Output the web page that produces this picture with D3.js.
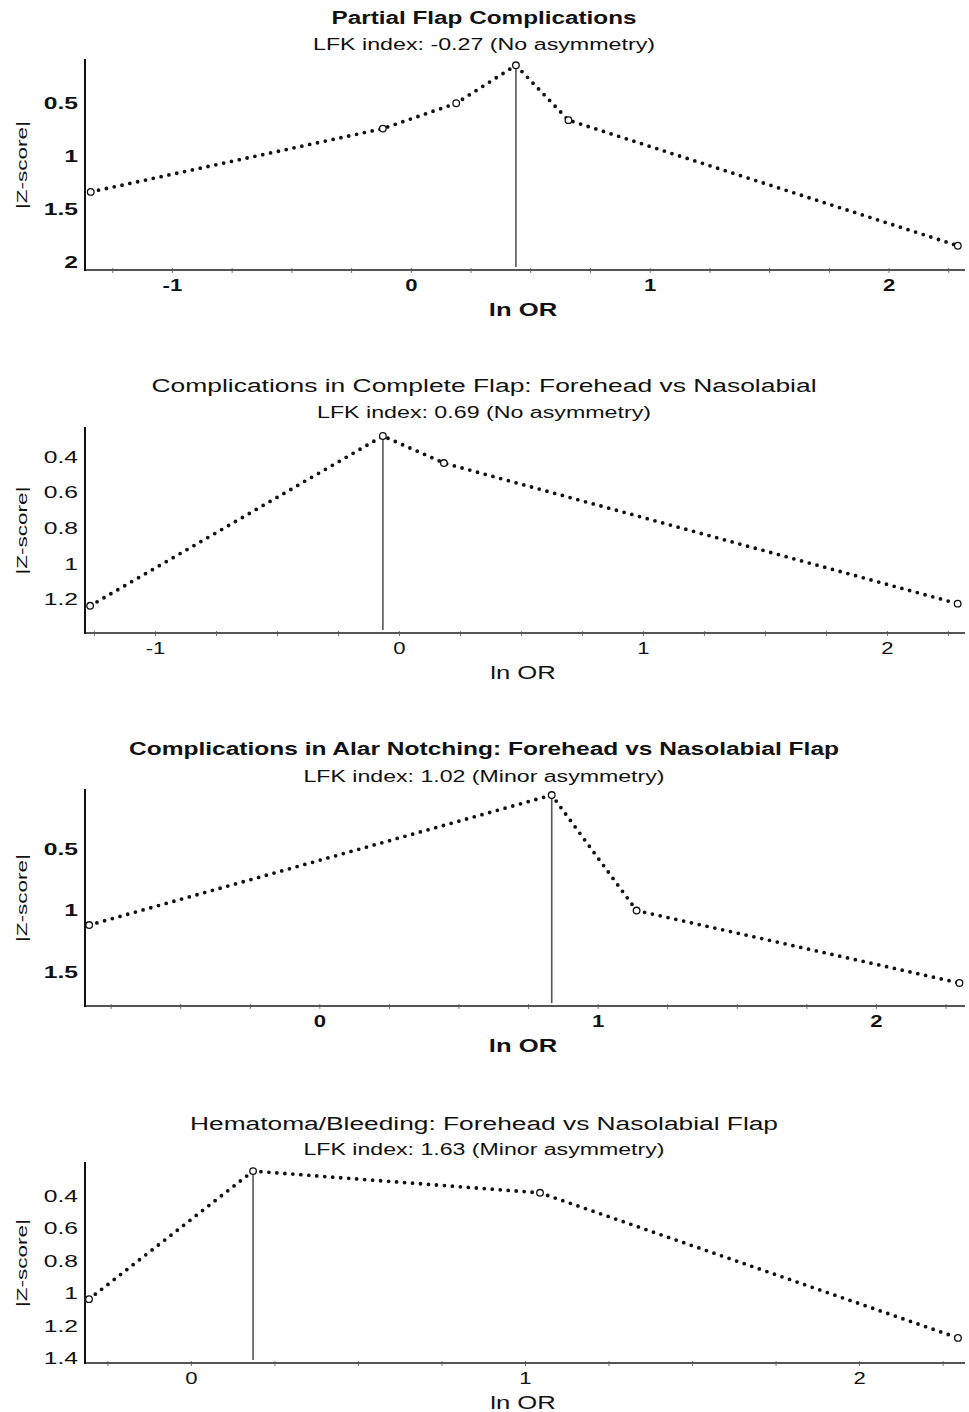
<!DOCTYPE html>
<html>
<head>
<meta charset="utf-8">
<script src="https://cdn.jsdelivr.net/npm/d3@7"></script>
<style>
  html, body { margin: 0; padding: 0; background: #fff; }
  svg { display: block; }
  text { font-family: "Liberation Sans", Arial, sans-serif; fill: #111; }
</style>
</head>
<body>
<svg id="chart" width="969" height="1412"></svg>
<script>
// ---------------- Data ----------------
const titles = [
  "Partial Flap Complications",
  "Complications in Complete Flap: Forehead vs Nasolabial",
  "Complications in Alar Notching: Forehead vs Nasolabial Flap",
  "Hematoma/Bleeding: Forehead vs Nasolabial Flap"
];
const subtitles = [
  "LFK index: -0.27 (No asymmetry)",
  "LFK index: 0.69 (No asymmetry)",
  "LFK index: 1.02 (Minor asymmetry)",
  "LFK index: 1.63 (Minor asymmetry)"
];
const xLabel = "ln OR";
const yLabel = "|Z-score|";

// ln OR (x) and |Z-score| (y) for each panel
const p1X = [-1.34, -0.117, 0.19, 0.44, 0.66, 2.29];
const p1Z = [1.34, 0.74, 0.50, 0.14, 0.66, 1.85];
const p2X = [-1.266, -0.066, 0.184, 2.29];
const p2Z = [1.237, 0.282, 0.434, 1.225];
const p3X = [-0.827, 0.835, 1.14, 2.30];
const p3Z = [1.118, 0.061, 1.00, 1.589];
const p4X = [-0.305, 0.186, 1.045, 2.296];
const p4Z = [1.036, 0.246, 0.38, 1.275];

// axis ranges
const p1XRange = [-1.364, 2.32], p1ZRange = [0.09, 2.08];
const p2XRange = [-1.287, 2.32], p2ZRange = [0.237, 1.39];
const p3XRange = [-0.842, 2.32], p3ZRange = [0.02, 1.776];
const p4XRange = [-0.317, 2.317], p4ZRange = [0.196, 1.43];

// tick labels
const p1XTicks = [-1, 0, 1, 2], p1ZTicks = [0.5, 1, 1.5, 2];
const p2XTicks = [-1, 0, 1, 2], p2ZTicks = [0.4, 0.6, 0.8, 1, 1.2];
const p3XTicks = [0, 1, 2],     p3ZTicks = [0.5, 1, 1.5];
const p4XTicks = [0, 1, 2],     p4ZTicks = [0.4, 0.6, 0.8, 1, 1.2, 1.4];

// ---------------- Layout ----------------
const panels = [
  { xs: p1X, zs: p1Z, xr: p1XRange, zr: p1ZRange, xt: p1XTicks, zt: p1ZTicks,
    top: 60, bottom: 270, bold: true, tW: 305, sW: 342, tDy: 36, sDy: 10 },
  { xs: p2X, zs: p2Z, xr: p2XRange, zr: p2ZRange, xt: p2XTicks, zt: p2ZTicks,
    top: 428, bottom: 633, bold: false, tW: 665, sW: 334, tDy: 36, sDy: 10 },
  { xs: p3X, zs: p3Z, xr: p3XRange, zr: p3ZRange, xt: p3XTicks, zt: p3ZTicks,
    top: 790, bottom: 1006, bold: true, tW: 710, sW: 361, tDy: 35, sDy: 8 },
  { xs: p4X, zs: p4Z, xr: p4XRange, zr: p4ZRange, xt: p4XTicks, zt: p4ZTicks,
    top: 1163, bottom: 1363, bold: false, tW: 588, sW: 361, tDy: 33, sDy: 8 }
];
const left = 85, right = 965, centerX = 484;
const stretch = 1.45;

const svg = d3.select("#chart");

function widen(sel, k) {
  sel.each(function () {
    const w = this.getComputedTextLength();
    d3.select(this).attr("textLength", w * k).attr("lengthAdjust", "spacingAndGlyphs");
  });
}

panels.forEach((p, i) => {
  const g = svg.append("g");
  const x = d3.scaleLinear().domain(p.xr).range([left, right]);
  const y = d3.scaleLinear().domain(p.zr).range([p.top, p.bottom]);
  const fw = p.bold ? "bold" : "normal";

  // titles
  g.append("text").attr("x", centerX).attr("y", p.top - p.tDy)
    .attr("text-anchor", "middle").attr("font-size", 18).attr("font-weight", fw)
    .attr("textLength", p.tW).attr("lengthAdjust", "spacingAndGlyphs")
    .text(titles[i]);
  g.append("text").attr("x", centerX).attr("y", p.top - p.sDy)
    .attr("text-anchor", "middle").attr("font-size", 16)
    .attr("textLength", p.sW).attr("lengthAdjust", "spacingAndGlyphs")
    .text(subtitles[i]);

  // minor ticks on x axis
  const minor = d3.range(Math.ceil(p.xr[0] * 4) / 4, p.xr[1] + 1e-9, 0.25);
  const minorAxis = g.append("g").attr("transform", `translate(0,${p.bottom})`)
    .call(d3.axisBottom(x).tickValues(minor).tickSize(3).tickFormat(""));
  minorAxis.select(".domain").remove();
  minorAxis.selectAll("line").attr("stroke", "#777").attr("stroke-width", 1).attr("y1", -2);

  // x tick labels
  const xa = g.append("g").attr("transform", `translate(0,${p.bottom})`)
    .call(d3.axisBottom(x).tickValues(p.xt).tickSize(0).tickPadding(9).tickFormat(d => String(d)));
  xa.select(".domain").remove();
  xa.selectAll("text").attr("font-size", 17).attr("font-weight", fw)
    .attr("font-family", "'Liberation Sans', Arial, sans-serif").attr("fill", "#111");
  widen(xa.selectAll("text"), 1.3);

  // y tick labels
  const ya = g.append("g").attr("transform", `translate(${left},0)`)
    .call(d3.axisLeft(y).tickValues(p.zt).tickSize(0).tickPadding(7).tickFormat(d => String(d)));
  ya.select(".domain").remove();
  ya.selectAll("text").attr("font-size", 17).attr("font-weight", fw)
    .attr("font-family", "'Liberation Sans', Arial, sans-serif").attr("fill", "#111");
  widen(ya.selectAll("text"), stretch);

  // axis lines
  g.append("line").attr("x1", left).attr("x2", right).attr("y1", p.bottom).attr("y2", p.bottom)
    .attr("stroke", "#555").attr("stroke-width", 2);
  g.append("line").attr("x1", left).attr("x2", left).attr("y1", p.top - 1).attr("y2", p.bottom + 1)
    .attr("stroke", "#111").attr("stroke-width", 2);

  // axis labels
  const xl = g.append("text").attr("x", (left + right) / 2 - 2).attr("y", p.bottom + 46)
    .attr("text-anchor", "middle").attr("font-size", 19).attr("font-weight", fw)
    .text(xLabel);
  widen(xl, 1.35);
  const yc = (p.top + p.bottom) / 2;
  g.append("text").attr("transform", `translate(27,${yc}) rotate(-90)`)
    .attr("text-anchor", "middle").attr("font-size", 14)
    .attr("textLength", 88).attr("lengthAdjust", "spacingAndGlyphs")
    .text(yLabel);

  // data
  const pts = p.xs.map((v, k) => [v, p.zs[k]]);
  const peak = pts.reduce((a, b) => (b[1] < a[1] ? b : a));
  g.append("line").attr("x1", x(peak[0])).attr("x2", x(peak[0]))
    .attr("y1", y(peak[1])).attr("y2", p.bottom - 3)
    .attr("stroke", "#555").attr("stroke-width", 1.6);

  const line = d3.line().x(d => x(d[0])).y(d => y(d[1])).curve(d3.curveLinear);
  g.append("path").attr("d", line(pts)).attr("fill", "none")
    .attr("stroke", "#111").attr("stroke-width", 3.8)
    .attr("stroke-linecap", "round").attr("stroke-dasharray", "0 8");

  g.selectAll("circle.pt").data(pts).enter().append("circle").attr("class", "pt")
    .attr("cx", d => x(d[0])).attr("cy", d => y(d[1])).attr("r", 3.3)
    .attr("fill", "#fff").attr("stroke", "#111").attr("stroke-width", 1.3);
});
</script>
</body>
</html>
